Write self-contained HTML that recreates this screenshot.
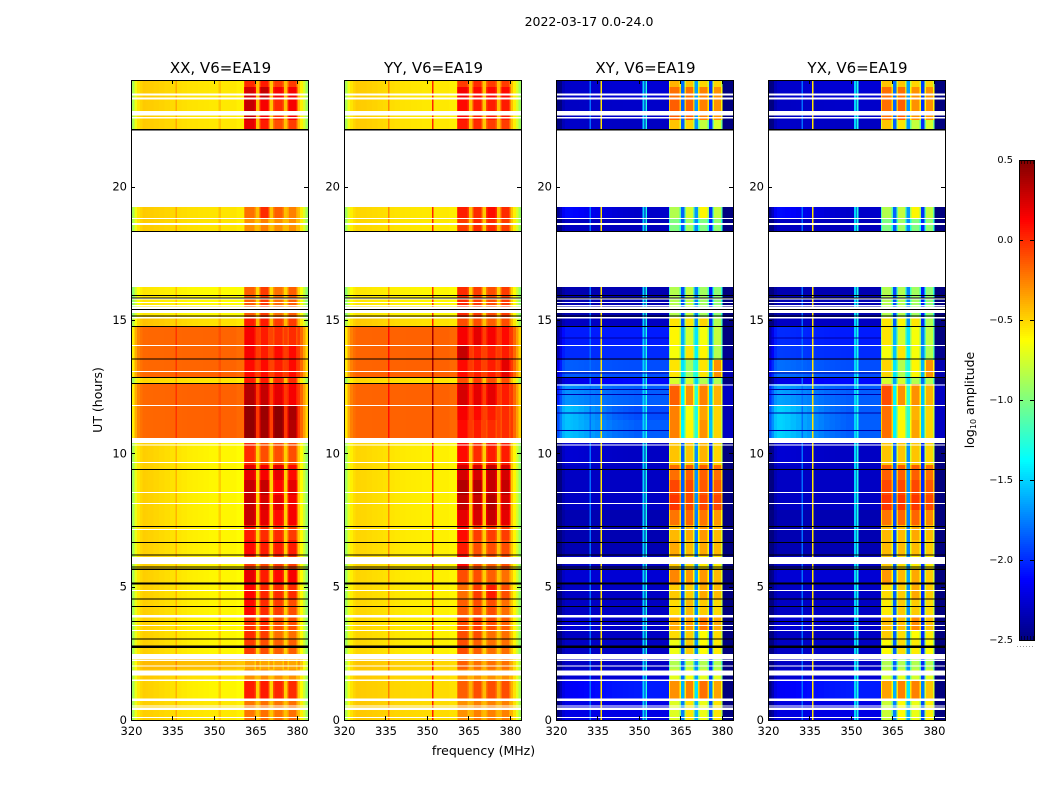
<!DOCTYPE html>
<html>
<head>
<meta charset="utf-8">
<title>2022-03-17 0.0-24.0</title>
<style>
html,body{margin:0;padding:0;background:#fff;}
svg{display:block;}
text{font-family:"DejaVu Sans","Liberation Sans",sans-serif;fill:#000;}
</style>
</head>
<body>
<svg id="fig" xmlns="http://www.w3.org/2000/svg" width="1050" height="800" viewBox="0 0 1050 800">
<text x="589" y="26" text-anchor="middle" font-size="12.5">2022-03-17 0.0-24.0</text>
<text x="483.5" y="755" text-anchor="middle" font-size="12.5">frequency (MHz)</text>
<text transform="translate(102,400) rotate(-90)" text-anchor="middle" font-size="12.5">UT (hours)</text>
<text transform="translate(974,400) rotate(-90)" text-anchor="middle" font-size="12.5">log<tspan font-size="8" dy="2">10</tspan><tspan dy="-2"> amplitude</tspan></text>
</svg>
<script>
// ---- axis ticks ----
const freqTicks = [320, 335, 350, 365, 380];
const utTicks = [0, 5, 10, 15, 20];
const colorTicks = [0.5, 0, -0.5, -1, -1.5, -2, -2.5];
const colorTickLabels = ["0.5", "0.0", "\u22120.5", "\u22121.0", "\u22121.5", "\u22122.0", "\u22122.5"];

// ---- frequency channels (MHz edges) ----
const channelEdges = [320,321,322,323,324,325,326,328,330,332,334,336,338,340,342,344,346,348,350,352,354,356,358,360.6,
  361.1,364.5,365,366.3,366.8,369.4,369.9,371.2,371.7,374.6,375.1,376.4,376.9,379.5,380,381,382,383,384];
// -1 continuum, 0-3 sub-band block, 4-6 gap between blocks
const channelRole = [-1,-1,-1,-1,-1,-1,-1,-1,-1,-1,-1,-1,-1,-1,-1,-1,-1,-1,-1,-1,-1,-1,-1,
  0,0,0,4,1,1,1,5,2,2,2,6,3,3,3,-1,-1,-1,-1];
const channelRim = [0,0,0,0,0,0,0,0,0,0,0,0,0,0,0,0,0,0,0,0,0,0,0,
  1,0,1,0,1,0,1,0,1,0,1,0,1,0,1,0,0,0,0];
const continuumTaper = [0,0,0,0,0,0.05,0.1,0.2,0.3,0.4,0.5,0.6,0.7,0.8,0.85,0.9,0.95,1,1,1,1,1,1,
  1,1,1,1,1,1,1,1,1,1,1,1,1,1,1,1,1,1,1];
const coPolEdge = [-0.4,-0.2,-0.08,-0.03,0,0,0,0,0,0,0,0,0,0,0,0,0,0,0,0,0,0,-0.02,
  0,0,0,0,0,0,0,0,0,0,0,0,0,0,0,0.12,-0.02,-0.18,-0.35];
const crossPolEdge = [-0.35,-0.2,-0.05,0,0,0,0,0,0,0,0,0,0,0,0,0,0,0,0,0,0,0,0,
  0,0,0,0,0,0,0,0,0,0,0,0,0,0,0,-0.45,-0.45,-0.45,-0.45];
const coPolRim = -0.12;
const crossPolRim = -0.3;
const coPolGaps = [0.12, 0.1, 0.12];
const crossPolGaps = [0.45, 0.6, 0.3];

// ---- time rows (UT hour boundaries) ----
const rowEdgesUT = [0,0.75,1.5,1.9,2.3,3,3.37,3.94,4.5,5.06,5.63,6.15,6.75,7.31,7.875,8.44,9,9.56,10.575,11.25,11.81,12.6,12.86,13.5,14.06,14.78,15.05,16.24,18.3,18.8,19.24,22.1,22.5,23.25,23.74,24];

// each row: left continuum, centre continuum, block 1-4 (log10 amplitude)
const xxRows = [
[-0.48,-0.56,-0.22,-0.2,-0.22,-0.2],
[-0.48,-0.6,0.05,0.05,0.02,0.0],
[-0.46,-0.55,-0.3,-0.28,-0.3,-0.3],
[-0.42,-0.44,-0.36,-0.36,-0.36,-0.36],
[-0.48,-0.6,-0.05,-0.1,-0.15,-0.15],
[-0.48,-0.6,0.0,-0.05,-0.2,-0.2],
[-0.48,-0.6,-0.02,0.0,-0.1,-0.1],
[-0.48,-0.6,0.1,0.0,-0.05,-0.1],
[-0.48,-0.6,0.12,0.02,0.0,0.0],
[-0.48,-0.6,0.2,0.05,0.1,0.15],
[-0.48,-0.6,-0.05,-0.08,-0.05,-0.05],
[-0.48,-0.6,0.1,0.05,0.05,0.05],
[-0.48,-0.6,0.05,0.0,0.0,-0.05],
[-0.48,-0.6,0.3,0.2,0.1,0.15],
[-0.48,-0.6,0.3,0.25,0.2,0.15],
[-0.48,-0.6,0.3,0.3,0.12,0.2],
[-0.48,-0.6,0.2,0.15,0.2,0.1],
[-0.48,-0.6,0.0,-0.1,-0.1,-0.1],
[-0.18,-0.16,0.45,0.4,0.45,0.35],
[-0.18,-0.16,0.45,0.42,0.47,0.38],
[-0.18,-0.16,0.35,0.3,0.2,0.15],
[-0.5,-0.55,0.05,0.05,0.0,0.0],
[-0.18,-0.17,0.1,0.1,0.05,0.1],
[-0.18,-0.17,0.15,0.05,0.1,0.1],
[-0.18,-0.17,0.15,0.05,0.0,0.0],
[-0.44,-0.54,0.05,0.05,-0.05,-0.05],
[-0.55,-0.62,-0.15,-0.05,-0.2,-0.15],
null,
[-0.47,-0.55,-0.3,-0.25,-0.3,-0.3],
[-0.47,-0.55,-0.2,0.0,-0.15,-0.25],
null,
[-0.47,-0.56,0.2,0.05,-0.1,-0.05],
[-0.47,-0.56,0.3,0.15,0.0,0.15],
[-0.47,-0.56,0.25,0.3,0.15,0.15],
[-0.47,-0.56,0.0,0.05,-0.05,-0.05]
];
const yyRows = [
[-0.46,-0.52,-0.3,-0.25,-0.25,-0.25],
[-0.47,-0.52,-0.15,-0.1,-0.1,-0.1],
[-0.46,-0.52,-0.3,-0.3,-0.3,-0.3],
[-0.45,-0.5,-0.15,-0.2,-0.2,-0.2],
[-0.5,-0.58,-0.1,-0.15,-0.2,-0.2],
[-0.5,-0.58,-0.1,-0.1,-0.2,-0.2],
[-0.5,-0.58,-0.1,-0.05,-0.1,-0.15],
[-0.5,-0.58,-0.15,-0.1,-0.1,-0.2],
[-0.5,-0.58,-0.2,-0.05,0.05,-0.1],
[-0.5,-0.58,-0.1,-0.1,-0.15,-0.2],
[-0.5,-0.58,0.1,-0.1,-0.15,-0.1],
[-0.5,-0.58,0.05,-0.1,-0.1,-0.1],
[-0.5,-0.58,0.1,-0.05,-0.05,-0.05],
[-0.5,-0.58,0.2,0.25,0.3,0.2],
[-0.5,-0.58,0.3,0.3,0.35,0.25],
[-0.5,-0.58,0.35,0.35,0.3,0.3],
[-0.5,-0.58,0.25,0.25,0.3,0.25],
[-0.5,-0.58,0.1,0.0,0.05,0.05],
[-0.17,-0.16,0.1,0.05,0.0,0.0],
[-0.17,-0.16,0.15,0.1,0.05,0.0],
[-0.17,-0.16,0.25,0.2,0.2,0.05],
[-0.5,-0.55,-0.1,-0.05,-0.1,-0.1],
[-0.17,-0.16,0.1,0.05,0.05,0.2],
[-0.17,-0.16,0.3,0.05,0.05,0.05],
[-0.17,-0.16,0.15,0.2,0.15,0.1],
[-0.46,-0.54,-0.1,-0.1,-0.15,-0.1],
[-0.55,-0.6,0.0,-0.05,-0.1,-0.05],
null,
[-0.5,-0.56,-0.05,0.0,0.0,-0.05],
[-0.5,-0.56,0.05,0.0,0.1,0.0],
null,
[-0.47,-0.56,0.05,0.0,-0.05,-0.05],
[-0.47,-0.56,0.1,0.05,0.05,0.05],
[-0.47,-0.56,0.15,0.1,0.1,0.1],
[-0.47,-0.56,-0.05,0.0,-0.05,-0.05]
];
const xyRows = [
[-2.2,-2.2,-0.72,-0.55,-0.68,-0.55],
[-2.15,-2.05,-0.3,-0.25,-0.2,-0.35],
[-2.25,-2.25,-0.7,-0.65,-0.7,-0.7],
[-2.3,-2.3,-0.85,-0.8,-0.85,-0.85],
[-2.3,-2.3,-0.67,-0.47,-0.62,-0.57],
[-2.3,-2.3,-0.52,-0.47,-0.62,-0.52],
[-2.25,-2.3,-0.37,-0.32,-0.22,-0.37],
[-2.3,-2.3,-0.52,-0.42,-0.47,-0.52],
[-2.3,-2.3,-0.47,-0.47,-0.37,-0.42],
[-2.25,-2.25,-0.27,-0.32,-0.32,-0.42],
[-2.3,-2.3,-0.47,-0.52,-0.57,-0.57],
[-2.35,-2.35,-0.37,-0.42,-0.37,-0.42],
[-2.35,-2.35,-0.42,-0.37,-0.32,-0.42],
[-2.35,-2.35,-0.22,-0.17,-0.22,-0.32],
[-2.3,-2.3,-0.03,-0.08,-0.08,-0.08],
[-2.3,-2.3,-0.08,-0.08,-0.13,-0.13],
[-2.3,-2.3,-0.2,-0.15,-0.15,-0.2],
[-2.25,-2.3,-0.45,-0.45,-0.4,-0.5],
[-1.55,-1.85,-0.25,-0.6,-0.3,-0.5],
[-1.55,-1.9,-0.25,-0.65,-0.35,-0.5],
[-1.7,-1.85,-0.15,-0.3,-0.25,-0.4],
[-2.2,-2.1,-0.75,-0.75,-0.85,-0.85],
[-1.85,-1.9,-0.55,-0.9,-0.55,-0.3],
[-2.0,-2.0,-0.65,-0.55,-0.6,-0.85],
[-2.05,-2.05,-0.6,-0.75,-0.65,-0.8],
[-2.3,-2.3,-0.55,-0.55,-0.5,-0.85],
[-2.35,-2.35,-0.85,-0.8,-0.9,-0.95],
null,
[-2.3,-2.32,-1.0,-0.9,-1.0,-0.95],
[-2.1,-2.28,-0.85,-0.75,-0.6,-0.8],
null,
[-2.28,-2.3,-0.45,-0.5,-0.8,-0.75],
[-2.3,-2.28,-0.15,-0.15,-0.25,-0.3],
[-2.28,-2.25,-0.2,-0.2,-0.25,-0.3],
[-2.28,-2.25,-0.4,-0.45,-0.5,-0.5]
];
const yxRows = [
[-2.22,-2.2,-0.78,-0.62,-0.68,-0.58],
[-2.15,-2.05,-0.35,-0.25,-0.25,-0.45],
[-2.25,-2.25,-0.75,-0.7,-0.75,-0.7],
[-2.3,-2.3,-0.85,-0.85,-0.85,-0.85],
[-2.3,-2.3,-0.62,-0.52,-0.57,-0.62],
[-2.3,-2.3,-0.47,-0.52,-0.62,-0.57],
[-2.25,-2.3,-0.42,-0.42,-0.27,-0.42],
[-2.3,-2.3,-0.57,-0.47,-0.47,-0.52],
[-2.3,-2.3,-0.52,-0.47,-0.37,-0.47],
[-2.25,-2.25,-0.32,-0.42,-0.37,-0.47],
[-2.3,-2.3,-0.47,-0.52,-0.57,-0.57],
[-2.35,-2.35,-0.42,-0.42,-0.42,-0.47],
[-2.35,-2.35,-0.42,-0.42,-0.37,-0.42],
[-2.35,-2.35,-0.22,-0.17,-0.17,-0.27],
[-2.3,-2.3,-0.03,-0.03,-0.03,-0.08],
[-2.3,-2.3,-0.08,-0.08,-0.08,-0.13],
[-2.3,-2.3,-0.15,-0.15,-0.15,-0.2],
[-2.25,-2.3,-0.45,-0.45,-0.45,-0.5],
[-1.5,-1.85,-0.2,-0.6,-0.35,-0.5],
[-1.5,-1.85,-0.2,-0.65,-0.4,-0.5],
[-1.65,-1.85,-0.1,-0.3,-0.3,-0.4],
[-2.2,-2.1,-0.75,-0.75,-0.85,-0.85],
[-1.8,-1.9,-0.5,-0.85,-0.6,-0.3],
[-1.95,-2.0,-0.65,-0.55,-0.65,-0.85],
[-2.0,-2.05,-0.55,-0.75,-0.65,-0.8],
[-2.3,-2.3,-0.55,-0.6,-0.55,-0.85],
[-2.35,-2.35,-0.85,-0.85,-0.9,-0.95],
null,
[-2.3,-2.32,-1.0,-0.9,-1.0,-0.95],
[-2.1,-2.28,-0.85,-0.8,-0.6,-0.8],
null,
[-2.28,-2.3,-0.45,-0.55,-0.8,-0.75],
[-2.3,-2.28,-0.2,-0.15,-0.3,-0.3],
[-2.28,-2.25,-0.2,-0.2,-0.3,-0.3],
[-2.28,-2.25,-0.45,-0.45,-0.5,-0.5]
];

// ---- narrow-band interference: MHz, width MHz, level ----
const xxSpikes = [[335.9,0.5,0.15],[351.4,1.0,0.07]];
const yySpikes = [[335.8,0.5,0.25],[351.7,0.5,0.55]];
const xySpikes = [[331.9,0.5,-1.8],[335.9,0.55,-0.55],[351.1,0.7,-1.5],[352.2,0.6,-1.3]];
const yxSpikes = [[331.9,0.5,-1.8],[335.8,0.55,-0.55],[350.9,0.7,-1.5],[351.9,0.7,-1.3]];

// ---- flagged times ----
const blankSpansUT = [[0.075,0.11],[0.375,0.476],[0.506,0.55],[0.71,0.81],[1.47,1.526],[1.66,1.86],[2.0,2.04],[2.22,2.26],[2.29,2.475],[3.34,3.375],[3.525,3.56],[3.84,3.93],[4.84,4.88],[5.85,6.12],[7.125,7.16],[8.1,8.14],[8.51,8.55],[9.64,9.68],[10.29,10.33],[10.39,10.575],[11.78,11.81],[13.05,13.09],[14.03,14.06],[15.05,15.12],[15.27,15.375],[15.41,15.5],[15.525,15.56],[15.65,15.68],[15.77,15.8],[18.57,18.64],[18.78,18.82],[22.55,22.62],[22.66,22.84],[23.26,23.34],[23.41,23.49]];
const blackSpansUT = [[2.7,2.79],[3.02,3.05],[3.69,3.72],[4.24,4.27],[4.52,4.55],[5.08,5.15],[5.63,5.69],[5.72,5.75],[6.17,6.2],[6.65,6.68],[7.25,7.28],[9.39,9.42],[12.84,12.87],[13.52,13.55],[14.75,14.78],[15.13,15.16],[15.39,15.42],[15.82,15.85],[15.91,15.94],[18.3,18.33],[22.1,22.16]];
const coPolBlackUT = [[12.6,12.63]];
const crossPolBlankUT = [[12.55,12.59]];
const crossPolDarkUT = [[10.84,10.87],[11.5,11.53],[12.2,12.23],[12.39,12.42],[14.3,14.34],[13.0,13.03]];

const panelTitles = ["XX, V6=EA19", "YY, V6=EA19", "XY, V6=EA19", "YX, V6=EA19"];
const panelLeft = [131, 344, 556, 768];
const panelRows = [xxRows, yyRows, xyRows, yxRows];
const panelSpikes = [xxSpikes, yySpikes, xySpikes, yxSpikes];

// ---- scales ----
const PW = 177, PT = 80, PB = 720;
function xScale(left, mhz) { return left + 0.5 + (mhz - 320) / 64 * PW; }
function yScale(ut) { return PB - ut / 24 * (PB - PT); }
function clamp01(v) { return Math.max(0, Math.min(1, v)); }
function jet(level) {
  const t = clamp01((level + 2.5) / 3);
  const r = clamp01(Math.min(4 * t - 1.5, -4 * t + 4.5));
  const g = clamp01(Math.min(4 * t - 0.5, -4 * t + 3.5));
  const b = clamp01(Math.min(4 * t + 0.5, -4 * t + 2.5));
  return "rgb(" + Math.round(r * 255) + "," + Math.round(g * 255) + "," + Math.round(b * 255) + ")";
}

const NS = "http://www.w3.org/2000/svg";
const fig = document.getElementById("fig");
function mk(tag, parent) { const e = document.createElementNS(NS, tag); parent.appendChild(e); return e; }
function setRect(e, x, y, w, h, fill) {
  e.setAttribute("x", x); e.setAttribute("y", y); e.setAttribute("width", w); e.setAttribute("height", h); e.setAttribute("fill", fill);
}
function cellLevel(row, c, cross) {
  const role = channelRole[c];
  const left = row[0], centre = row[1];
  if (role === -1) {
    return left + (centre - left) * continuumTaper[c] + (cross ? crossPolEdge[c] : coPolEdge[c]);
  }
  if (role >= 4) return centre + (cross ? crossPolGaps : coPolGaps)[role - 4];
  return row[2 + role] + (channelRim[c] ? (cross ? crossPolRim : coPolRim) : 0);
}
function flagBar(g, left, span, fill) {
  const y1 = yScale(span[1]), y2 = yScale(span[0]);
  const e = mk("rect", g);
  setRect(e, left, y1, PW + 1, Math.max(1, y2 - y1), fill);
  return e;
}

panelTitles.forEach(function (title, p) {
  const left = panelLeft[p], rows = panelRows[p], cross = p >= 2;
  const g = mk("g", fig);
  
  
  const heat = mk("g", g);
  heat.setAttribute("shape-rendering", "crispEdges");
  
  

  rows.forEach(function (row, r) {
    if (!row) return;
    const y1 = yScale(rowEdgesUT[r + 1]), y2 = yScale(rowEdgesUT[r]);
    channelRole.forEach(function (role, c) {
      const x1 = xScale(left, channelEdges[c]), x2 = xScale(left, channelEdges[c + 1]);
      const cell = mk("rect", heat);
      setRect(cell, x1, y1, x2 - x1, y2 - y1, jet(cellLevel(row, c, cross)));
      
      
    });
    panelSpikes[p].forEach(function (sp) {
      const base = row[0] + (row[1] - row[0]) * 0.6;
      const level = cross ? sp[2] : base + sp[2];
      const x1 = xScale(left, sp[0]), x2 = xScale(left, sp[0] + sp[1]);
      const line = mk("rect", heat);
      setRect(line, x1, y1, Math.max(1, x2 - x1), y2 - y1, jet(level));
      
      
    });
  });

  if (cross) {
    crossPolDarkUT.forEach(function (span) {
      const y1 = yScale(span[1]), y2 = yScale(span[0]);
      const dark = mk("rect", heat);
      setRect(dark, left, y1, xScale(left, 360.6) - left, Math.max(1, y2 - y1), "rgb(0,0,170)");
      
      
    });
    crossPolBlankUT.forEach(function (span) {
      const b = flagBar(heat, left, span, "#fff");
      
      
    });
  } else {
    coPolBlackUT.forEach(function (span) {
      const b = flagBar(heat, left, span, "#000");
      
      
    });
  }
  blankSpansUT.forEach(function (span) {
    const b = flagBar(heat, left, span, "#fff");
    
    
  });
  blackSpansUT.forEach(function (span) {
    const b = flagBar(heat, left, span, "#000");
    
    
  });

  const frame = mk("rect", g);
  setRect(frame, left + 0.5, PT + 0.5, PW, PB - PT, "none");
  frame.setAttribute("stroke", "#000");
  frame.setAttribute("stroke-width", "1");
  
  

  const t = mk("text", g);
  t.setAttribute("x", left + PW / 2 + 1);
  t.setAttribute("y", 73);
  t.setAttribute("text-anchor", "middle");
  t.setAttribute("font-size", "15");
  
  
  t.textContent = title;

  freqTicks.forEach(function (f) {
    const x = Math.round(xScale(left, f) - 0.5) + 0.5;
    [[PB, PB - 4], [PT, PT + 4]].forEach(function (pair) {
      const tick = mk("line", g);
      tick.setAttribute("x1", x); tick.setAttribute("x2", x);
      tick.setAttribute("y1", pair[0]); tick.setAttribute("y2", pair[1]);
      tick.setAttribute("stroke", "#000");
      
      
    });
    const lab = mk("text", g);
    lab.setAttribute("x", xScale(left, f));
    lab.setAttribute("y", 735);
    lab.setAttribute("text-anchor", "middle");
    lab.setAttribute("font-size", "11.5");
    
    
    lab.textContent = f;
  });
  utTicks.forEach(function (u) {
    const y = Math.round(yScale(u)) + 0.5;
    [[left, left + 4], [left + PW, left + PW - 4]].forEach(function (pair) {
      const tick = mk("line", g);
      tick.setAttribute("x1", pair[0]); tick.setAttribute("x2", pair[1]);
      tick.setAttribute("y1", y); tick.setAttribute("y2", y);
      tick.setAttribute("stroke", "#000");
      
      
    });
    const lab = mk("text", g);
    lab.setAttribute("x", left - 4);
    lab.setAttribute("y", yScale(u) + 4);
    lab.setAttribute("text-anchor", "end");
    lab.setAttribute("font-size", "11.5");
    
    
    lab.textContent = u;
  });
});

// ---- colorbar ----
const CBX = 1019, CBW = 15, CBT = 160, CBB = 640;
function cbY(level) { return CBB - (level + 2.5) / 3 * (CBB - CBT); }
const cb = mk("g", fig);


const cbStrip = mk("g", cb);
cbStrip.setAttribute("shape-rendering", "crispEdges");


for (let y = CBT; y < CBB; y += 2) {
  const s = mk("rect", cbStrip);
  setRect(s, CBX, y, CBW + 1, 2, jet(0.5 - (y + 1 - CBT) / (CBB - CBT) * 3));
  
  
}
const cbFrame = mk("rect", cb);
setRect(cbFrame, CBX + 0.5, CBT + 0.5, CBW, CBB - CBT, "none");
cbFrame.setAttribute("stroke", "#000");


colorTicks.forEach(function (lv, i) {
  const y = Math.round(cbY(lv)) + 0.5;
  if (i > 0 && i < colorTicks.length - 1) {
    [[CBX, CBX + 4], [CBX + CBW, CBX + CBW - 4]].forEach(function (pair) {
      const tick = mk("line", cb);
      tick.setAttribute("x1", pair[0]); tick.setAttribute("x2", pair[1]);
      tick.setAttribute("y1", y); tick.setAttribute("y2", y);
      tick.setAttribute("stroke", "#000");
      
      
    });
  }
  const lab = mk("text", cb);
  lab.setAttribute("x", 1013);
  lab.setAttribute("y", cbY(lv) + 3);
  lab.setAttribute("text-anchor", "end");
  lab.setAttribute("font-size", "9.8");
  
  
  lab.textContent = colorTickLabels[i];
});
for (let x = CBX + 2; x < CBX + CBW; x += 3) {
  [[CBT, CBT + 4], [CBB, CBB - 4]].forEach(function (pair) {
    const tick = mk("line", cb);
    tick.setAttribute("x1", x + 0.5); tick.setAttribute("x2", x + 0.5);
    tick.setAttribute("y1", pair[0]); tick.setAttribute("y2", pair[1]);
    tick.setAttribute("stroke", "#000");
    tick.setAttribute("stroke-opacity", "0.6");
    
    
  });
}
const dots = mk("line", cb);
dots.setAttribute("x1", 1017); dots.setAttribute("x2", 1035);
dots.setAttribute("y1", 646.5); dots.setAttribute("y2", 646.5);
dots.setAttribute("stroke", "#999");
dots.setAttribute("stroke-dasharray", "1 2");


</script>
</body>
</html>
